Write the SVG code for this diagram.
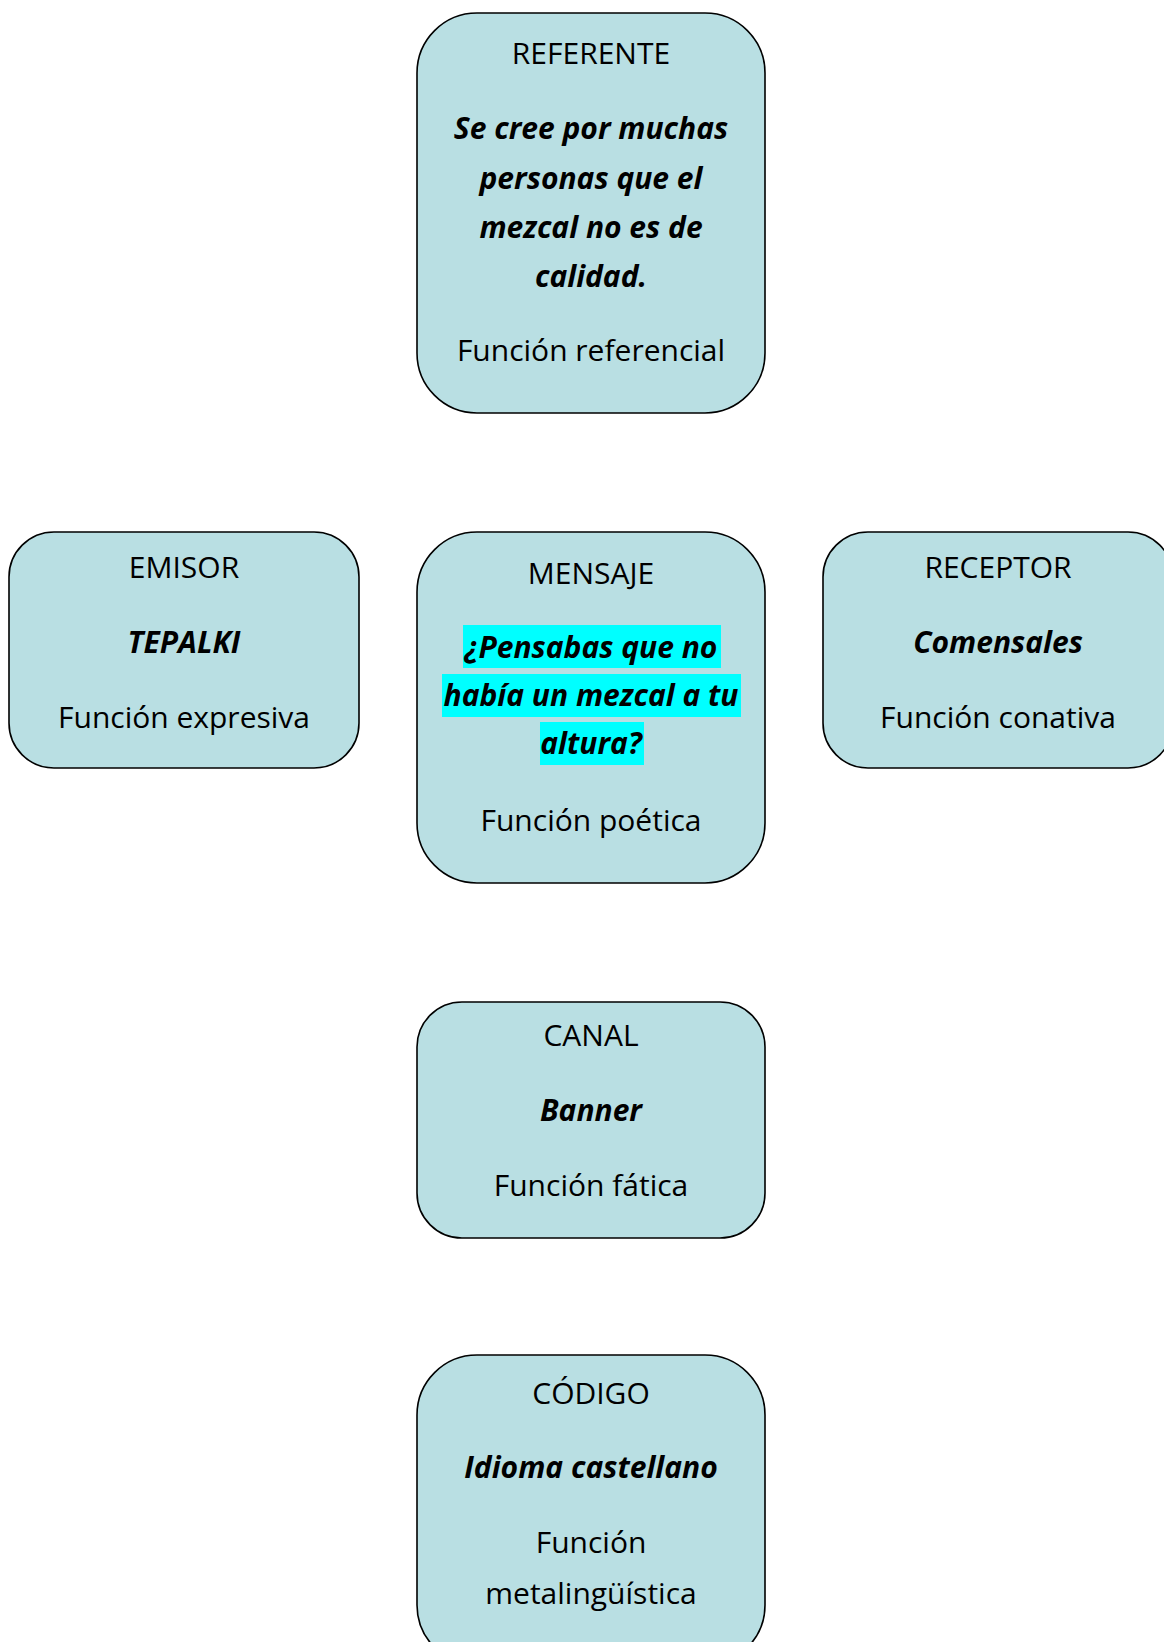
<svg xmlns="http://www.w3.org/2000/svg" width="1164" height="1642" viewBox="0 0 1164 1642">
<style>
.box{fill:#B9DFE3;stroke:#000;stroke-width:1.6}
text{font-family:"Open Sans",Lato,"Liberation Sans",sans-serif;font-size:30px;fill:#000;text-anchor:middle}
.bi{font-weight:bold;font-style:italic}
.hl{fill:#00FFFF}
</style>
<rect width="1164" height="1642" fill="#fff"/>
<g id="connectors"></g>
<g id="referente">
<rect class="box" x="417" y="13" width="348" height="400" rx="60" ry="60"/>
<text x="591" y="64">REFERENTE</text>
<text class="bi" x="591" y="139">Se cree por muchas</text>
<text class="bi" x="591" y="189">personas que el</text>
<text class="bi" x="591" y="238">mezcal no es de</text>
<text class="bi" x="591" y="287">calidad.</text>
<text x="591" y="361">Función referencial</text>
</g>
<g id="emisor">
<rect class="box" x="9" y="532" width="350" height="236" rx="45" ry="45"/>
<text x="184" y="578">EMISOR</text>
<text class="bi" x="184" y="653">TEPALKI</text>
<text x="184" y="728">Función expresiva</text>
</g>
<g id="mensaje">
<rect class="box" x="417" y="532" width="348" height="351" rx="60" ry="60"/>
<rect class="hl" x="463" y="625" width="258" height="43"/>
<rect class="hl" x="442" y="674" width="299" height="43"/>
<rect class="hl" x="540" y="722" width="104" height="43"/>
<text x="591" y="584">MENSAJE</text>
<text class="bi" x="591" y="658">¿Pensabas que no</text>
<text class="bi" x="591" y="706">había un mezcal a tu</text>
<text class="bi" x="591" y="754">altura?</text>
<text x="591" y="831">Función poética</text>
</g>
<g id="receptor">
<rect class="box" x="823" y="532" width="350" height="236" rx="45" ry="45"/>
<text x="998" y="578">RECEPTOR</text>
<text class="bi" x="998" y="653">Comensales</text>
<text x="998" y="728">Función conativa</text>
</g>
<g id="canal">
<rect class="box" x="417" y="1002" width="348" height="236" rx="45" ry="45"/>
<text x="591" y="1046">CANAL</text>
<text class="bi" x="591" y="1121">Banner</text>
<text x="591" y="1196">Función fática</text>
</g>
<g id="codigo">
<rect class="box" x="417" y="1355" width="348" height="310" rx="60" ry="60"/>
<text x="591" y="1404">CÓDIGO</text>
<text class="bi" x="591" y="1478">Idioma castellano</text>
<text x="591" y="1553">Función</text>
<text x="591" y="1604">metalingüística</text>
</g>
</svg>
